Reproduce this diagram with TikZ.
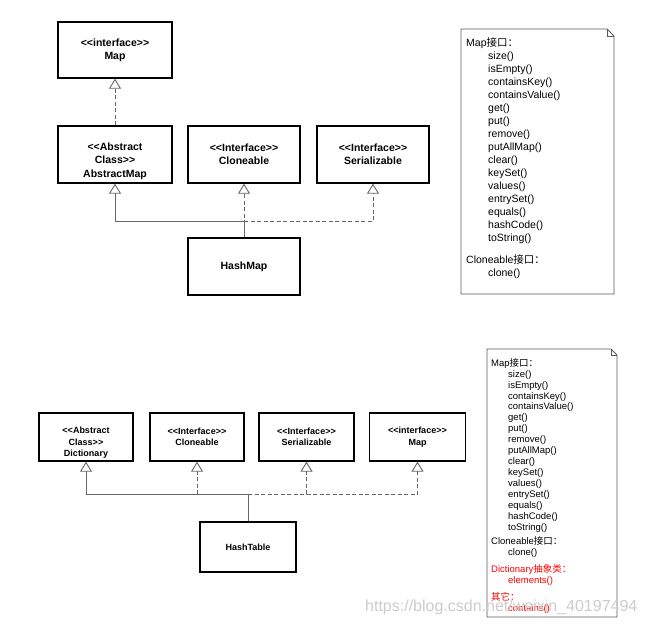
\documentclass[tikz,border=0pt]{standalone}
\usepackage{fontspec}
\setmainfont{Liberation Sans}
\newfontfamily\cjk{Noto Sans CJK SC}
\usetikzlibrary{arrows.meta}
\newcommand{\zh}[1]{{\cjk #1}}
\newcommand{\oLL}{<\kern0pt<}
\newcommand{\oGG}{>\kern0pt>}
\newcommand{\indA}{\hspace*{22pt}}
\newcommand{\indB}{\hspace*{17pt}}
\begin{document}
\begin{tikzpicture}[x=1pt,y=-1pt,
  box/.style={draw=black, line width=1.3pt, rectangle, inner sep=0pt, align=center,
    font=\bfseries\fontsize{10.5}{13.3}\selectfont},
  boxs/.style={box, font=\bfseries\fontsize{9}{11.4}\selectfont},
  btext/.style={inner sep=0pt, align=center, font=\bfseries\fontsize{10.5}{13.3}\selectfont},
  btexts/.style={btext, font=\bfseries\fontsize{9}{11.4}\selectfont},
  conn/.style={draw=black!60, line width=0.9pt},
  real/.style={conn, -{Triangle[open, length=10pt, width=12pt, fill=white]}},
  impl/.style={conn, dash pattern=on 4pt off 2.5pt, -{Triangle[open, length=10pt, width=12pt, fill=white]}},
  note/.style={draw=black!65, line width=0.9pt},
  ntextT/.style={inner sep=0pt, align=left, font=\fontsize{10.5}{13}\selectfont},
  ntextB/.style={inner sep=0pt, align=left, font=\fontsize{9.5}{10.95}\selectfont},
]
\useasboundingbox (0,0) rectangle (645,625);

% ---------- top diagram ----------
\node[box, minimum width=114pt, minimum height=56pt] (mapT) at (115,50) {\oLL interface\oGG\\Map};
\node[box, minimum width=114pt, minimum height=57pt] (absT) at (115,154.5) {};
\node[btext, yshift=-6.5pt] (absTt) at (absT.center) {\oLL Abstract\\Class\oGG\\AbstractMap};
\node[box, minimum width=112pt, minimum height=57pt] (cloT) at (244,154.5) {\oLL Interface\oGG\\Cloneable};
\node[box, minimum width=112pt, minimum height=57pt] (serT) at (373,154.5) {\oLL Interface\oGG\\Serializable};
\node[box, minimum width=112pt, minimum height=57pt] (hmT) at (244,266.5) {HashMap};
\coordinate (jT) at (244,221);
\draw[impl] (absT.north) -- (mapT.south);
\draw[real] (hmT.north) -- (jT) -| (absT.south);
\draw[impl] (hmT.north) -- (cloT.south);
\draw[impl] (jT) -| (serT.south);

% ---------- bottom diagram ----------
\node[boxs, minimum width=94pt, minimum height=48pt] (dicB) at (86,437) {};
\node[btexts, yshift=-5.7pt] (dicBt) at (dicB.center) {\oLL Abstract\\Class\oGG\\Dictionary};
\node[boxs, minimum width=94pt, minimum height=48pt] (cloB) at (197,437) {\oLL Interface\oGG\\Cloneable};
\node[boxs, minimum width=95pt, minimum height=48pt] (serB) at (306.5,437) {\oLL Interface\oGG\\Serializable};
\node[boxs, minimum width=96pt, minimum height=48pt] (mapB) at (417.5,437) {\oLL interface\oGG\\Map};
\node[boxs, minimum width=96pt, minimum height=50pt] (htB) at (248,547) {HashTable};
\coordinate (jB) at (248,494);
\draw[real] (htB.north) -- (jB) -| (dicB.south);
\draw[impl] (htB.north) -- (jB) -| (cloB.south);
\draw[impl] (jB) -| (serB.south);
\draw[impl] (jB) -| (mapB.south);

% ---------- top note ----------
\draw[note] (461,29) -- (607,29) -- (614,36) -- (614,294) -- (461,294) -- cycle;
\draw[note] (607,29) -- (607,36) -- (614,36);
\node[ntextT, anchor=north west] (txtT) at (466,37.5) {Map\zh{接口：}\\
\indA size()\\ \indA isEmpty()\\ \indA containsKey()\\ \indA containsValue()\\
\indA get()\\ \indA put()\\ \indA remove()\\ \indA putAllMap()\\ \indA clear()\\
\indA keySet()\\ \indA values()\\ \indA entrySet()\\ \indA equals()\\
\indA hashCode()\\ \indA toString()\\[9pt]
Cloneable\zh{接口：}\\ \indA clone()};

% ---------- bottom note ----------
\draw[note] (487,349) -- (611,349) -- (617,355) -- (617,617) -- (487,617) -- cycle;
\draw[note] (611,349) -- (611,355) -- (617,355);
\node[ntextB, anchor=north west] (txtB) at (491,358) {Map\zh{接口：}\\
\indB size()\\ \indB isEmpty()\\ \indB containsKey()\\ \indB containsValue()\\
\indB get()\\ \indB put()\\ \indB remove()\\ \indB putAllMap()\\ \indB clear()\\
\indB keySet()\\ \indB values()\\ \indB entrySet()\\ \indB equals()\\
\indB hashCode()\\ \indB toString()\\[3pt]
Cloneable\zh{接口：}\\ \indB clone()\\[6pt]
\textcolor{red}{Dictionary\zh{抽象类：}}\\ \textcolor{red}{\indB elements()}\\[6pt]
\textcolor{red}{\zh{其它：}}\\ \textcolor{red}{\indB contains()}};

% ---------- watermark ----------
\node[inner sep=0pt, anchor=west, text=black!20, font=\fontsize{16}{18}\selectfont] (wm) at (365,607) {https://blog.csdn.net/weixin\_40197494};
\end{tikzpicture}
\end{document}
